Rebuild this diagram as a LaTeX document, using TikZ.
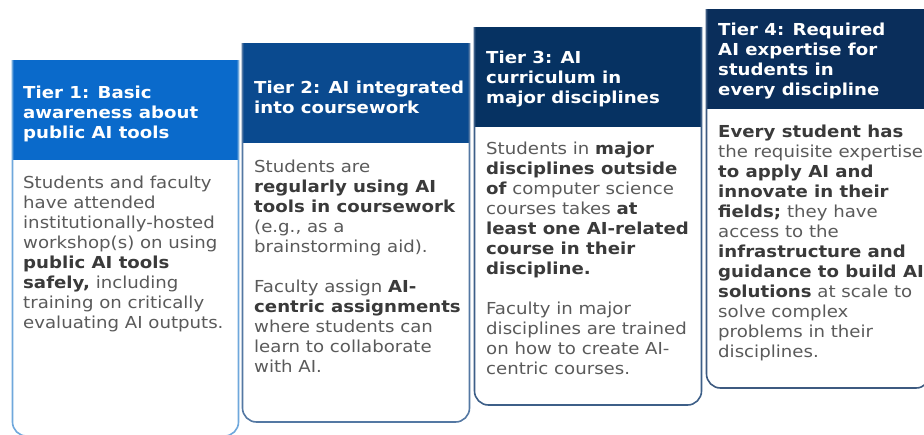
\documentclass[tikz,border=0pt]{standalone}
\usepackage{fontspec}
\setmainfont[FakeStretch=1.1]{DejaVu Sans}
\definecolor{hdrA}{HTML}{0A6ACB}
\definecolor{hdrB}{HTML}{0A4A8F}
\definecolor{hdrC}{HTML}{063262}
\definecolor{hdrD}{HTML}{0A2E5B}
\definecolor{brdA}{HTML}{6FA8DC}
\definecolor{brdB}{HTML}{5478A3}
\definecolor{brdC}{HTML}{3D5F88}
\definecolor{brdD}{HTML}{3D5A80}
\definecolor{bodytext}{HTML}{5A5A5A}
\definecolor{boldtext}{HTML}{3A3A3A}
\newcommand{\bt}[1]{{\color{boldtext}\bfseries #1}}
\begin{document}
\begin{tikzpicture}[x=1pt,y=-1pt,
  hdrbox/.style={anchor=north west, minimum width=#1, minimum height=100pt,
    inner sep=0pt, draw=none},
  hdrtxt/.style={anchor=north west, inner sep=0pt, align=left,
    text=white, font=\fontsize{16.5}{20}\selectfont\bfseries},
  bodytxt/.style={anchor=north west, inner sep=0pt, align=left,
    text=bodytext, font=\fontsize{16.5}{20}\selectfont},
  frame/.style={line width=1.6pt, rounded corners=14pt}]
\useasboundingbox (0,0) rectangle (924,434);
\fill[white] (0,0) rectangle (924,434);

% Tier 1
\coordinate (t1a) at (12.5,60);
\coordinate (t1b) at (238.5,436);
\node[hdrbox=226pt, fill=hdrA] (h1) at (t1a) {};
\draw[frame, draw=brdA] (t1a) -- (t1a |- t1b) -- (t1b) -- (t1b |- t1a);
\node[hdrtxt] (ht1) at (23,85.8) {Tier 1: Basic\\awareness about\\public AI tools};
\node[bodytxt] (b1) at (23,176) {Students and faculty\\have attended\\institutionally-hosted\\workshop(s) on using\\\bt{public AI tools}\\\bt{safely,} including\\training on critically\\evaluating AI outputs.};

% Tier 2
\coordinate (t2a) at (242.5,43);
\coordinate (t2b) at (469.5,422);
\node[hdrbox=227pt, fill=hdrB] (h2) at (t2a) {};
\draw[frame, draw=brdB] (t2a) -- (t2a |- t2b) -- (t2b) -- (t2b |- t2a);
\node[hdrtxt] (ht2) at (254,80.5) {Tier 2: AI integrated\\into coursework};
\node[bodytxt] (b2) at (254,159.3) {Students are\\\bt{regularly using AI}\\\bt{tools in coursework}\\(e.g., as a\\brainstorming aid).\\[20pt]Faculty assign \bt{AI-}\\\bt{centric assignments}\\where students can\\learn to collaborate\\with AI.};

% Tier 3
\coordinate (t3a) at (474.5,27);
\coordinate (t3b) at (701.5,405);
\node[hdrbox=227pt, fill=hdrC] (h3) at (t3a) {};
\draw[frame, draw=brdC] (t3a) -- (t3a |- t3b) -- (t3b) -- (t3b |- t3a);
\node[hdrtxt] (ht3) at (486,50.8) {Tier 3: AI\\curriculum in\\major disciplines};
\node[bodytxt] (b3) at (486,141.8) {Students in \bt{major}\\\bt{disciplines outside}\\\bt{of} computer science\\courses takes \bt{at}\\\bt{least one AI-related}\\\bt{course in their}\\\bt{discipline.}\\[20pt]Faculty in major\\disciplines are trained\\on how to create AI-\\centric courses.};

% Tier 4
\coordinate (t4a) at (706.5,9);
\coordinate (t4b) at (930,388);
\node[hdrbox=224pt, fill=hdrD] (h4) at (t4a) {};
\draw[frame, draw=brdD] (t4a) -- (t4a |- t4b) -- (t4b) -- (t4b |- t4a);
\node[hdrtxt] (ht4) at (718,22.5) {Tier 4: Required\\AI expertise for\\students in\\every discipline};
\node[bodytxt] (b4) at (718,125.2) {\bt{Every student has}\\the requisite expertise\\\bt{to apply AI and}\\\bt{innovate in their}\\\bt{fields;} they have\\access to the\\\bt{infrastructure and}\\\bt{guidance to build AI}\\\bt{solutions} at scale to\\solve complex\\problems in their\\disciplines.};
\end{tikzpicture}
\end{document}
